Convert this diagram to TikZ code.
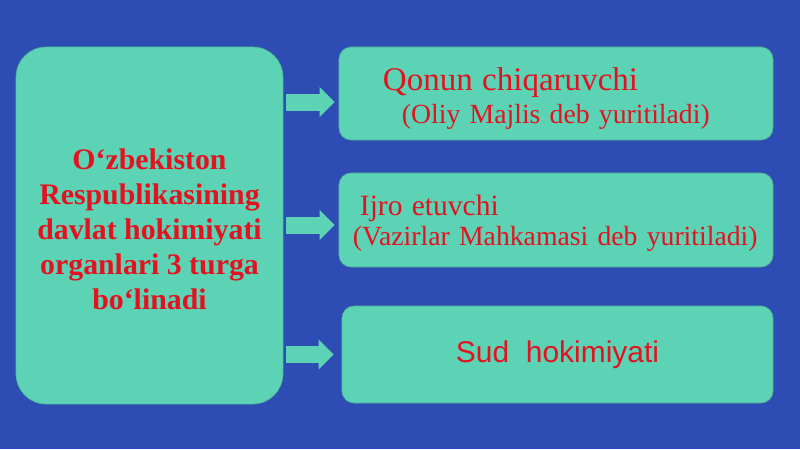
\documentclass[tikz,border=0pt]{standalone}
\usepackage{fontspec}
\setmainfont{Liberation Serif}
\newfontfamily\sudfont{Liberation Sans}
\usepackage{tikz}
\usetikzlibrary{arrows.meta, calc, positioning}
\definecolor{bgblue}{RGB}{46,77,180}
\definecolor{boxteal}{RGB}{92,211,180}
\definecolor{textred}{RGB}{228,18,32}

\begin{document}
\begin{tikzpicture}[x=0.025cm, y=-0.025cm,
		branch/.style={draw=boxteal!80!black, line width=0.4pt, fill=boxteal, rounded corners=0.3cm, text=textred, inner xsep=0pt, inner ysep=0pt, align=left},
		flow/.style={-{Triangle[length=0.375cm, width=0.725cm]}, line width=0.425cm, draw=boxteal, shorten <=0.075cm, shorten >=0.1cm}]
	\fill[bgblue] (0,0) rectangle (800,449);
	
	\node(organs)  [draw=boxteal!80!black, line width=0.4pt, fill=boxteal, rounded corners=0.75cm, minimum width=6.675cm, minimum height=8.925cm, text=textred, align=center, font=\bfseries\fontsize{21.2pt}{25pt}\selectfont] at (149.5,225.5)  {\rule{0pt}{20pt}O‘zbekiston\\Respublikasining\\davlat hokimiyati\\organlari 3 turga\\bo‘linadi};
	
	\node(qonun)  [branch, text width=10.85cm, minimum height=2.325cm, font=\fontsize{19.7pt}{23.5pt}\selectfont] at (556,93.5)  {\hspace*{1.1cm}\rule{0pt}{23pt}{\fontsize{23.5pt}{23.5pt}\selectfont Qonun chiqaruvchi}\\\hspace*{1.575cm}(Oliy Majlis deb yuritiladi)};
	
	\node(ijro)  [branch, text width=10.85cm, minimum height=2.35cm, font=\fontsize{19.7pt}{21.3pt}\selectfont] at (556,220)  {\hspace*{0.525cm}\rule{0pt}{18.6pt}{\fontsize{21pt}{21.3pt}\selectfont Ijro etuvchi}\\\hspace*{0.35cm}(Vazirlar Mahkamasi deb yuritiladi)};
	
	\node(sud)  [branch, align=center, minimum width=10.775cm, minimum height=2.425cm, font=\sudfont\fontsize{21.3pt}{25pt}\selectfont] at (557.5,354.5)  {Sud\ \ hokimiyati};
	
	\draw[flow] ($(organs.east |- qonun.west)+(0,8.5)$) -- ($(qonun.west)+(0,8.5)$);
	\draw[flow] ($(organs.east |- ijro.west)+(0,5)$) -- ($(ijro.west)+(0,5)$);
	\draw[flow, shorten >=0.2cm] (organs.east |- sud.west) -- (sud.west);
	
\end{tikzpicture}
\end{document}
